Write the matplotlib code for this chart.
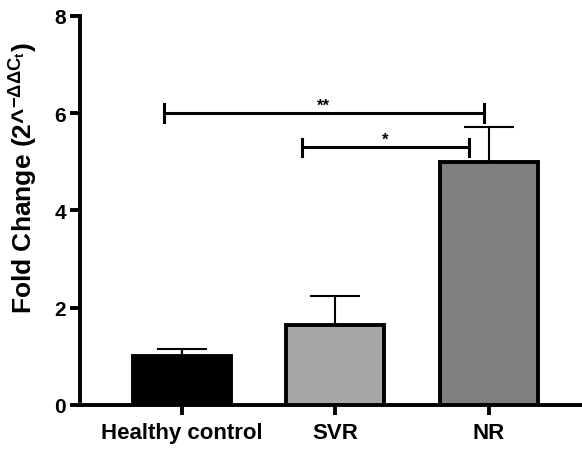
import numpy as np
import matplotlib
matplotlib.use("Agg")
import matplotlib.pyplot as plt

# Data
groups = ["Healthy control", "SVR", "NR"]
fold_change = [1.0, 1.65, 5.0]
upper_err = [0.15, 0.6, 0.72]
bar_colors = ["#000000", "#a8a6a9", "#7f7f7f"]

# significance brackets: (x_start, x_end, height, label)
sig_x0 = [-0.12, 0.78]
sig_x1 = [1.97, 1.87]
sig_y = [6.0, 5.3]
sig_labels = ["**", "*"]

plt.rcParams["font.family"] = ["Liberation Sans", "DejaVu Sans"]
plt.rcParams["font.weight"] = "bold"
plt.rcParams["mathtext.fontset"] = "custom"
plt.rcParams["mathtext.rm"] = "Liberation Sans"
plt.rcParams["mathtext.it"] = "Liberation Sans"
plt.rcParams["mathtext.bf"] = "Liberation Sans:bold"

fig = plt.figure(figsize=(5.82, 4.52), dpi=100)
ax = fig.add_axes([0.1375, 0.1018, 0.8625, 0.8606])

x = np.arange(len(groups))
ax.bar(x, fold_change, width=0.64, color=bar_colors, edgecolor="black",
       linewidth=2.8, zorder=3)
ax.errorbar(x, fold_change, yerr=[np.zeros(len(x)), upper_err], fmt="none",
            ecolor="black", elinewidth=1.5, capsize=18, capthick=1.5, zorder=2)

for x0, x1, y, lab in zip(sig_x0, sig_x1, sig_y, sig_labels):
    ax.plot([x0, x1], [y, y], color="black", lw=2.2, zorder=4)
    ax.plot([x0, x0], [y - 0.18, y + 0.18], color="black", lw=2.2, zorder=4)
    ax.plot([x1, x1], [y - 0.18, y + 0.18], color="black", lw=2.2, zorder=4)
    ax.text((x0 + x1) / 2, y + 0.02, lab, ha="center", va="bottom",
            fontsize=12, fontweight="bold")

ax.set_xlim(-0.667, 2.61)
ax.set_ylim(0, 8)
ax.set_yticks([0, 2, 4, 6, 8])
ax.set_xticks(x)
ax.set_xticklabels(groups)
ax.tick_params(axis="both", width=2.8, length=7, labelsize=15)
ax.tick_params(axis="x", labelsize=16, pad=5)
ax.tick_params(axis="y", pad=3)
for lab in ax.get_xticklabels() + ax.get_yticklabels():
    lab.set_fontweight("bold")

ax.spines["top"].set_visible(False)
ax.spines["right"].set_visible(False)
ax.spines["left"].set_linewidth(2.8)
ax.spines["bottom"].set_linewidth(2.8)

ax.set_ylabel(r"Fold Change (2^$^{\mathregular{-\Delta\Delta C_t}}$)",
              fontsize=19, fontweight="bold")
ax.yaxis.set_label_coords(-0.08, 0.585)

fig.savefig("out.png", dpi=100)
